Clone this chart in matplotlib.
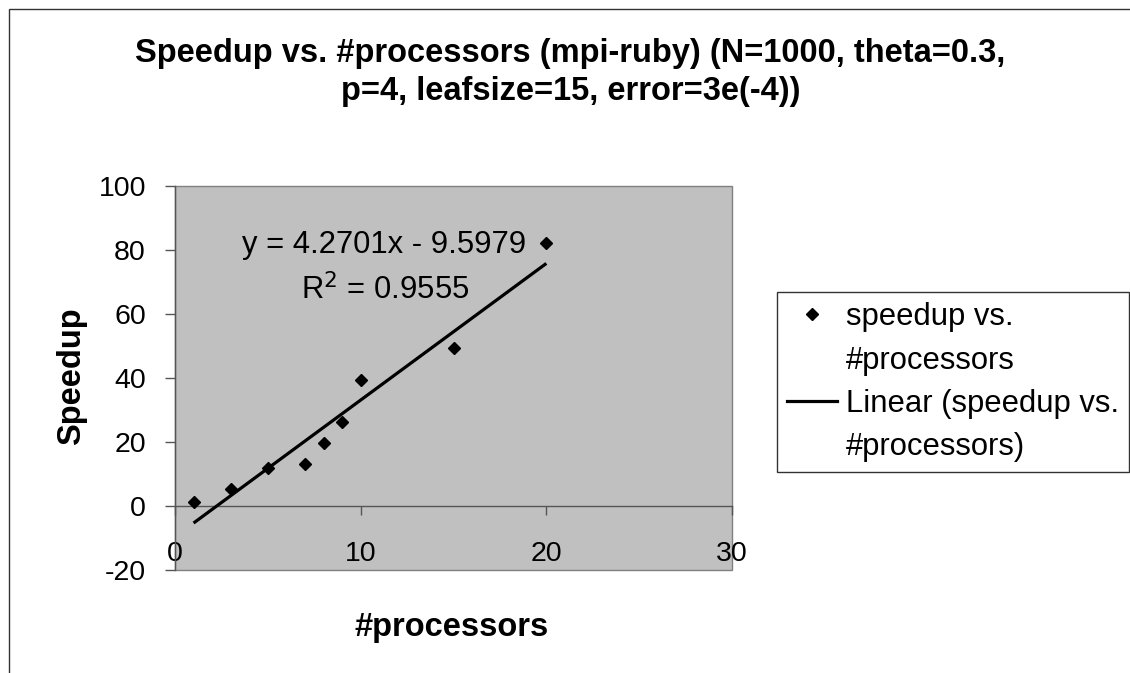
import matplotlib
matplotlib.use("Agg")
import matplotlib.pyplot as plt
import numpy as np
from matplotlib.lines import Line2D
from matplotlib.patches import Rectangle

plt.rcParams['font.family'] = ['Liberation Sans', 'DejaVu Sans']
plt.rcParams['axes.unicode_minus'] = False

# ---- data ----
processors = [1, 3, 5, 7, 8, 9, 10, 15, 20]
speedup = [1.2, 5.3, 12.0, 13.1, 19.6, 26.1, 39.4, 49.3, 82.1]
trend_slope = 4.2701
trend_intercept = -9.5979
r_squared = 0.9555
x_ticks = [0, 10, 20, 30]
y_ticks = [-20, 0, 20, 40, 60, 80, 100]

title_lines = ["Speedup vs. #processors (mpi-ruby) (N=1000, theta=0.3,",
               "p=4, leafsize=15, error=3e(-4))"]
series_label = "speedup vs. #processors"

W, H = 1130, 673
fig = plt.figure(figsize=(W / 100, H / 100), dpi=100)
fig.patch.set_facecolor('white')

# outer chart border (top and left visible)
fig.patches.append(Rectangle((8.5 / W, -0.05), 1.2, 1 - 9.5 / H + 0.05,
                             transform=fig.transFigure, fill=False,
                             edgecolor='#333333', linewidth=1.0))

left, right, top, bottom = 175, 732, 186, 570
ax = fig.add_axes([left / W, 1 - bottom / H, (right - left) / W, (bottom - top) / H])
ax.set_facecolor('#C0C0C0')
ax.set_xlim(0, 30)
ax.set_ylim(-20, 100)

# plot-area frame
ax.add_patch(Rectangle((0, 0), 1, 1, transform=ax.transAxes, fill=False,
                       edgecolor='#808080', linewidth=1.0, clip_on=False, zorder=1))

for s in ['top', 'right']:
    ax.spines[s].set_visible(False)
ax.spines['bottom'].set_position(('data', 0))
ax.spines['bottom'].set_color('#555555')
ax.spines['left'].set_color('#555555')
ax.spines['bottom'].set_linewidth(1.0)
ax.spines['left'].set_linewidth(1.0)

ax.set_xticks(x_ticks)
ax.set_yticks(y_ticks)
ax.tick_params(axis='x', direction='out', length=6.5, width=1.0, color='#555555',
               pad=19, labelsize=20.5)
ax.tick_params(axis='y', direction='out', length=7.2, width=1.0, color='#555555',
               pad=13.7, labelsize=20.5)

# data points
ax.plot(processors, speedup, linestyle='none', marker='D', markersize=6.2,
        color='black', zorder=4)

# linear trendline
xt = np.array([min(processors), max(processors)], dtype=float)
ax.plot(xt, trend_slope * xt + trend_intercept, color='black', linewidth=2.3,
        zorder=3, solid_capstyle='butt')

# trendline equation
ax.text(11.25, 81.6, f"y = {trend_slope}x - {-trend_intercept}", ha='center', va='center',
        fontsize=22.3)
ax.text(11.3, 67.6, f"R$^2$ = {r_squared}", ha='center', va='center', fontsize=22.3)

# title and axis labels
fig.text(570 / W, 1 - 62 / H, title_lines[0], ha='center', va='baseline', fontsize=23.5,
         fontweight='bold')
fig.text(571 / W, 1 - 100 / H, title_lines[1], ha='center', va='baseline', fontsize=23.5,
         fontweight='bold')
fig.text(72 / W, 1 - 376 / H, "Speedup", rotation=90, ha='center', va='center',
         fontsize=23.5, fontweight='bold')
fig.text(452 / W, 1 - 636 / H, "#processors", ha='center', va='baseline',
         fontsize=23.5, fontweight='bold')

# legend
words = series_label.split(' ')
h_marker = Line2D([], [], linestyle='none', marker='D', markersize=6.2, color='black')
h_line = Line2D([], [], color='black', linewidth=2.3)
h_blank = Line2D([], [], linestyle='none')
leg = fig.legend([h_marker, h_blank, h_line, h_blank],
                 [" ".join(words[:2]), words[2], "Linear (" + " ".join(words[:2]), words[2] + ")"],
                 loc='upper left', bbox_to_anchor=(777 / W, 1 - 292 / H),
                 fontsize=22.3, frameon=True, fancybox=False, borderpad=0.33,
                 labelspacing=0.43, handlelength=1.6, handletextpad=0.3,
                 borderaxespad=0)
leg.get_frame().set_edgecolor('black')
leg.get_frame().set_linewidth(1.0)

fig.savefig("out.png", dpi=100)
